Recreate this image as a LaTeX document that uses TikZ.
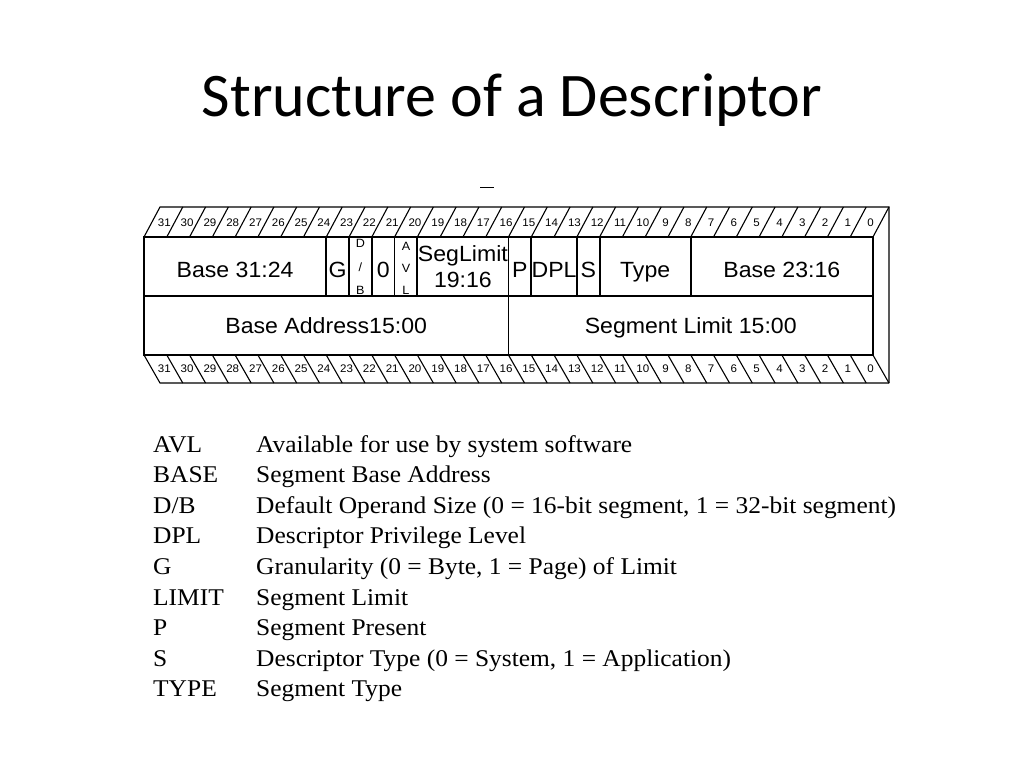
\documentclass[tikz,border=0pt]{standalone}
\usepackage{fontspec}
\setmainfont{Liberation Serif}[FakeStretch=1.06]
\newfontfamily\titlefont{Carlito}
\newfontfamily\boxfont{Liberation Sans}[FakeStretch=1.05]
\begin{document}
\begin{tikzpicture}[x=1pt,y=-1pt,
  frontline/.style={line width=1.8pt},
  stripline/.style={line width=1.1pt},
  fld/.style={font=\boxfont\fontsize{22}{24}\selectfont, inner sep=0pt, anchor=base},
  tiny/.style={font=\boxfont\fontsize{12}{12}\selectfont, inner sep=0pt, anchor=base},
  bitnum/.style={font=\boxfont\fontsize{11}{11}\selectfont, inner sep=0pt},
  legkey/.style={font=\fontsize{24}{24}\selectfont, anchor=base west, inner sep=0pt},
  legtxt/.style={font=\fontsize{24}{24}\selectfont, anchor=base west, inner sep=0pt}]
\useasboundingbox (0,0) rectangle (1024,768);
\def\w{22.78}
% title
\node[font=\titlefont\fontsize{62}{70}\selectfont, anchor=base, inner sep=0pt] (title) at (512,116) {Structure of a Descriptor};
\draw[line width=0.8pt] (480,187) -- (494,187);
% top strip
\draw[stripline] (144,237) -- (160,207) -- (889,207) -- (889,383);
\foreach \i in {1,...,32} \draw[stripline] ({144+\i*\w},237) -- ({160+\i*\w},207);
\foreach \i [evaluate=\i as \b using int(31-\i)] in {0,...,31}
  \node[bitnum] (t\b) at ({144+(\i+0.5)*\w+9},223) {\b};
% bottom strip
\draw[stripline] (144,355) -- (160,383) -- (889,383);
\foreach \i in {1,...,32} \draw[stripline] ({144+\i*\w},355) -- ({160+\i*\w},383);
\foreach \i [evaluate=\i as \b using int(31-\i)] in {0,...,31}
  \node[bitnum] (b\b) at ({144+(\i+0.5)*\w+9},369) {\b};
% front face
\draw[frontline] (144,237) rectangle (873,355);
\draw[frontline] (144,296) -- (873,296);
\foreach \k in {8,9,10,11,12,16,17,19,20,24}
  \draw[frontline] ({144+\k*\w},237) -- ({144+\k*\w},296);
\draw[frontline] ({144+16*\w},296) -- ({144+16*\w},355);
% field labels
\node[fld] (base3124) at ({144+4*\w},277) {Base 31:24};
\node[fld] (g) at ({144+8.5*\w},277) {G};
\node[tiny] (db1) at ({144+9.5*\w},247) {D};
\node[tiny] (db2) at ({144+9.5*\w},271) {/};
\node[tiny] (db3) at ({144+9.5*\w},294) {B};
\node[fld] (zero) at ({144+10.5*\w},277) {0};
\node[tiny] (avl1) at ({144+11.5*\w},250) {A};
\node[tiny] (avl2) at ({144+11.5*\w},272) {V};
\node[tiny] (avl3) at ({144+11.5*\w},294) {L};
\node[fld] (seg1) at ({144+14*\w},261) {SegLimit};
\node[fld] (seg2) at ({144+14*\w},287) {19:16};
\node[fld] (p) at ({144+16.5*\w},277) {P};
\node[fld] (dpl) at ({144+18*\w},277) {DPL};
\node[fld] (s) at ({144+19.5*\w},277) {S};
\node[fld] (type) at ({144+22*\w},277) {Type};
\node[fld] (base2316) at ({144+28*\w},277) {Base 23:16};
\node[fld] (baseaddr) at ({144+8*\w},333) {Base Address15:00};
\node[fld] (seglim) at ({144+24*\w},333) {Segment Limit 15:00};
% legend
\node[legkey] (k1) at (153,452) {AVL};
\node[legtxt] (d1) at (256,452) {Available for use by system software};
\node[legkey] (k2) at (153,482.6) {BASE};
\node[legtxt] (d2) at (256,482.6) {Segment Base Address};
\node[legkey] (k3) at (153,513.2) {D/B};
\node[legtxt] (d3) at (256,513.2) {Default Operand Size (0 = 16-bit segment, 1 = 32-bit segment)};
\node[legkey] (k4) at (153,543.8) {DPL};
\node[legtxt] (d4) at (256,543.8) {Descriptor Privilege Level};
\node[legkey] (k5) at (153,574.4) {G};
\node[legtxt] (d5) at (256,574.4) {Granularity (0 = Byte, 1 = Page) of Limit};
\node[legkey] (k6) at (153,605) {LIMIT};
\node[legtxt] (d6) at (256,605) {Segment Limit};
\node[legkey] (k7) at (153,635.6) {P};
\node[legtxt] (d7) at (256,635.6) {Segment Present};
\node[legkey] (k8) at (153,666.2) {S};
\node[legtxt] (d8) at (256,666.2) {Descriptor Type (0 = System, 1 = Application)};
\node[legkey] (k9) at (153,696.8) {TYPE};
\node[legtxt] (d9) at (256,696.8) {Segment Type};
\end{tikzpicture}
\end{document}
